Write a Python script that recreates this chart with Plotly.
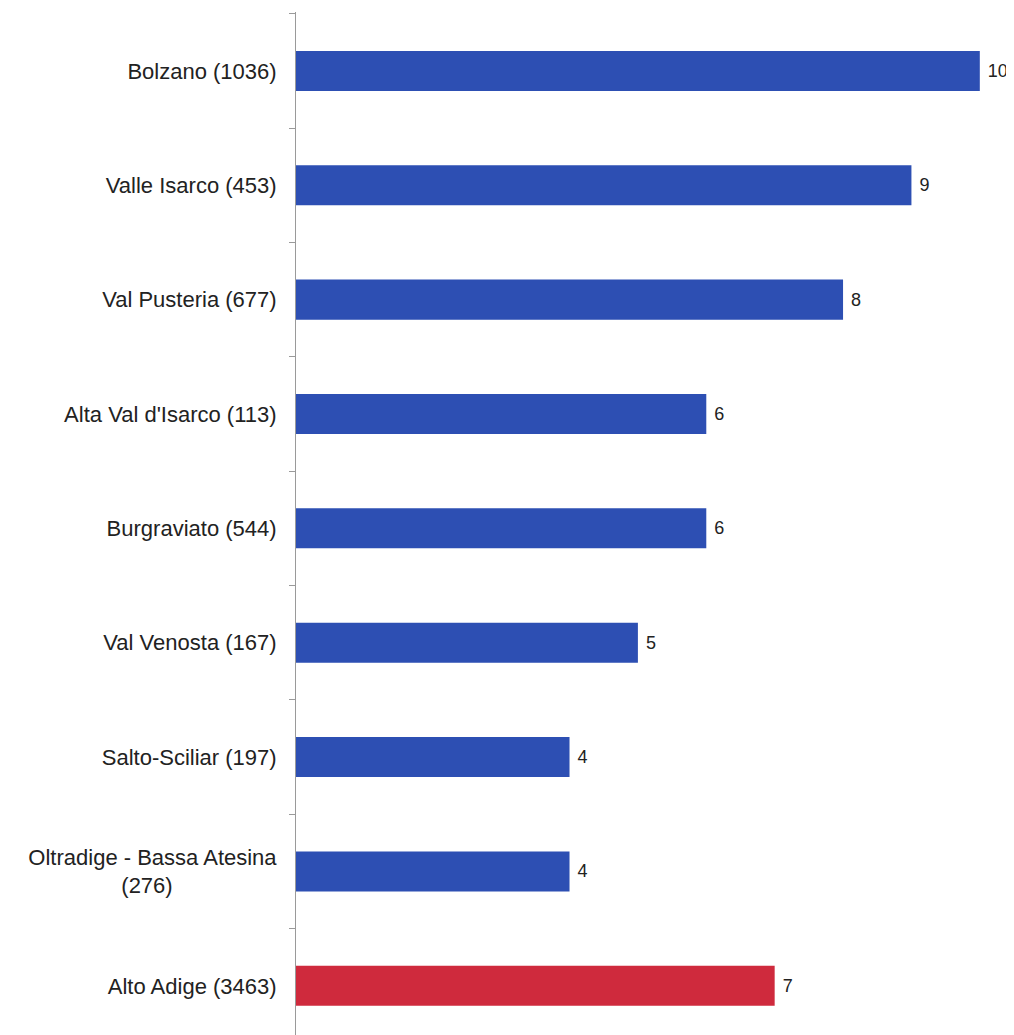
import plotly.graph_objects as go

categories = [
    "Bolzano (1036)",
    "Valle Isarco (453)",
    "Val Pusteria (677)",
    "Alta Val d'Isarco (113)",
    "Burgraviato (544)",
    "Val Venosta (167)",
    "Salto-Sciliar (197)",
    "Oltradige - Bassa Atesina (276)",
    "Alto Adige (3463)",
]
tick_labels = [
    "Bolzano (1036)",
    "Valle Isarco (453)",
    "Val Pusteria (677)",
    "Alta Val d'Isarco (113)",
    "Burgraviato (544)",
    "Val Venosta (167)",
    "Salto-Sciliar (197)",
    "Oltradige - Bassa Atesina<br>(276)" + "\u00a0" * 17,
    "Alto Adige (3463)",
]
values = [10, 9, 8, 6, 6, 5, 4, 4, 7]
colors = ["#2D4FB3"] * 8 + ["#CF2A3D"]

fig = go.Figure(
    go.Bar(
        x=values,
        y=categories,
        orientation="h",
        marker=dict(color=colors, line=dict(width=0)),
        width=0.35,
        text=values,
        texttemplate="\u00a0%{x}",
        textposition="outside",
        textfont=dict(family="Liberation Sans, Arial", size=18, color="#222222"),
        cliponaxis=False,
    )
)

fig.update_layout(
    width=1006,
    height=1027,
    margin=dict(l=288, r=0, t=4, b=0),
    paper_bgcolor="white",
    plot_bgcolor="white",
    showlegend=False,
    font=dict(family="Liberation Sans, Arial", size=22, color="#222222"),
)
fig.update_xaxes(visible=False, range=[0, 10.5], fixedrange=True)
fig.update_yaxes(
    type="category",
    categoryorder="array",
    categoryarray=categories,
    tickmode="array",
    tickvals=categories,
    ticktext=tick_labels,
    range=[8.43, -0.515],
    showline=True,
    linecolor="#9a9a9a",
    linewidth=1,
    ticks="outside",
    ticklen=6,
    tickcolor="#9a9a9a",
    tickson="boundaries",
    showgrid=False,
    ticklabelstandoff=14,
    automargin=False,
    tickfont=dict(family="Liberation Sans, Arial", size=22, color="#222222"),
)

fig.write_html("out.html")
